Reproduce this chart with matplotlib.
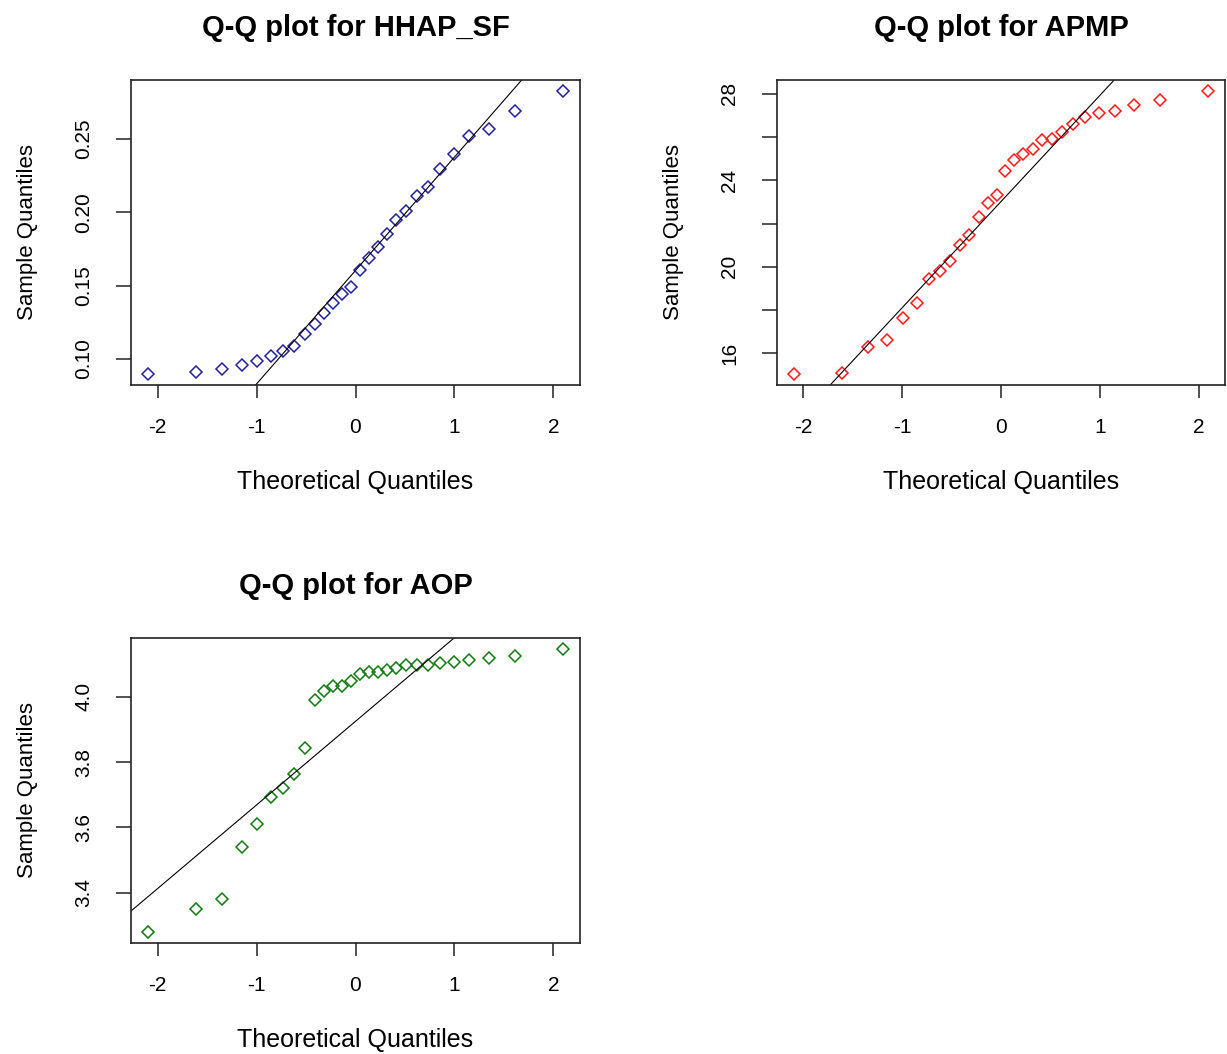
import numpy as np
import matplotlib
matplotlib.use('Agg')
import matplotlib.pyplot as plt

plt.rcParams['font.family'] = ['Liberation Sans', 'DejaVu Sans']

# theoretical normal quantiles for n = 28 points
theo_q = [-2.100, -1.611, -1.345, -1.150, -0.992, -0.854, -0.732, -0.619,
          -0.514, -0.414, -0.319, -0.226, -0.135, -0.045,
          0.045, 0.135, 0.226, 0.319, 0.414, 0.514, 0.619, 0.732,
          0.854, 0.992, 1.150, 1.345, 1.611, 2.100]

hhap_sf = [0.0898, 0.0912, 0.0932, 0.0959, 0.0982, 0.1016, 0.1053, 0.1089,
           0.1171, 0.1239, 0.1312, 0.1380, 0.1441, 0.1489, 0.1607, 0.1687,
           0.1762, 0.1855, 0.1948, 0.2008, 0.2108, 0.2176, 0.2294, 0.2399,
           0.2519, 0.2569, 0.2694, 0.2826]

apmp = [15.05, 15.08, 16.28, 16.59, 17.65, 18.34, 19.42, 19.80,
        20.28, 21.00, 21.49, 22.28, 22.97, 23.32, 24.43, 24.92,
        25.23, 25.46, 25.88, 25.89, 26.23, 26.62, 26.92, 27.11,
        27.19, 27.49, 27.72, 28.12]

aop = [3.281, 3.349, 3.382, 3.540, 3.609, 3.694, 3.722, 3.762,
       3.844, 3.990, 4.017, 4.033, 4.034, 4.049, 4.069, 4.076,
       4.077, 4.082, 4.087, 4.097, 4.097, 4.098, 4.104, 4.107,
       4.112, 4.117, 4.125, 4.145]

xticks = [-2, -1, 0, 1, 2]
Q75 = 0.6745  # qnorm(0.75)

W, H = 1227, 1054
fig = plt.figure(figsize=(W / 100, H / 100), dpi=100)


def px_axes(left, top, right, bottom):
    return fig.add_axes([left / W, (H - bottom) / H, (right - left) / W, (bottom - top) / H])


def qq_panel(ax, y, color, title, yticks, ylabels):
    x = np.array(theo_q)
    y = np.array(y)
    ax.plot(x, y, linestyle='none', marker='D', markersize=6.3,
            markerfacecolor='none', markeredgecolor=color, markeredgewidth=1.1)
    # qqline through the quartiles
    q1, q3 = np.percentile(y, [25, 75])
    slope = (q3 - q1) / (2 * Q75)
    icpt = q1 + slope * Q75
    ax.axline((0, icpt), slope=slope, color='black', lw=0.8)

    xr = x.max() - x.min()
    yr = y.max() - y.min()
    ax.set_xlim(x.min() - 0.04 * xr, x.max() + 0.04 * xr)
    ax.set_ylim(y.min() - 0.04 * yr, y.max() + 0.04 * yr)

    ax.set_xticks(xticks)
    ax.set_xticklabels([str(t) for t in xticks])
    ax.set_yticks(yticks)
    ax.set_yticklabels(ylabels, rotation=90, va='center')
    ax.tick_params(axis='both', direction='out', width=1.1,
                   labelsize=15, color='#222222')
    ax.tick_params(axis='x', length=9.5, pad=14)
    ax.tick_params(axis='y', length=11, pad=16)
    for s in ax.spines.values():
        s.set_linewidth(1.2)
        s.set_color('#222222')
    ax.set_title(title, fontsize=21, fontweight='bold', pad=32)
    ax.set_xlabel('Theoretical Quantiles', fontsize=18, labelpad=24)
    ax.set_ylabel('Sample Quantiles', fontsize=16, labelpad=26)


ax1 = px_axes(131, 80, 580, 385)
qq_panel(ax1, hhap_sf, '#22229f', 'Q-Q plot for HHAP_SF',
         [0.10, 0.15, 0.20, 0.25], ['0.10', '0.15', '0.20', '0.25'])

ax2 = px_axes(777, 80, 1225, 385)
qq_panel(ax2, apmp, '#ff1a1a', 'Q-Q plot for APMP',
         [16, 18, 20, 22, 24, 26, 28], ['16', '', '20', '', '24', '', '28'])

ax3 = px_axes(131, 638, 580, 943)
qq_panel(ax3, aop, '#117a11', 'Q-Q plot for AOP',
         [3.4, 3.6, 3.8, 4.0], ['3.4', '3.6', '3.8', '4.0'])

fig.savefig('out.png', dpi=100, facecolor='white')
